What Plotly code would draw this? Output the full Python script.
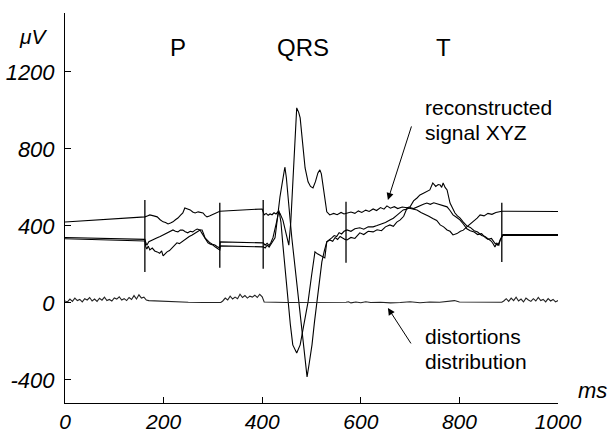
import plotly.graph_objects as go

# ---- data (time in ms, amplitude in microvolts) ----
sig_a = [(0, 420), (162, 447), (167, 452), (172, 457), (180, 452), (187, 447), (193, 432), (199, 421),
         (204, 418), (209, 410), (214, 415), (219, 421), (224, 432), (229, 441), (234, 455), (239, 467),
         (243, 493), (248, 488), (254, 483), (259, 472), (264, 467), (270, 473), (275, 470), (280, 467),
         (284, 455), (288, 447), (293, 452), (298, 457), (303, 462), (308, 467), (314, 476), (400, 488),
         (404, 457), (408, 465), (412, 455), (416, 462), (420, 458), (424, 468), (428, 462), (432, 473),
         (436, 465), (442, 430), (448, 360), (454, 300), (458, 420), (462, 640), (466, 870), (470, 1013),
         (474, 990), (477, 961), (482, 830), (487, 701), (493, 629), (498, 605), (503, 597), (508, 630),
         (513, 675), (517, 691), (520, 670), (523, 613), (527, 540), (531, 473), (537, 457), (545, 465),
         (552, 458), (560, 470), (566, 462), (572, 467), (580, 472), (588, 465), (595, 478), (602, 470),
         (610, 482), (617, 475), (625, 488), (632, 480), (640, 495), (647, 487), (653, 504), (660, 492),
         (668, 500), (675, 490), (684, 498), (694, 494), (704, 488), (714, 483), (722, 470), (730, 462),
         (738, 450), (746, 438), (754, 428), (761, 405), (768, 395), (775, 379), (781, 372), (787, 353),
         (795, 360), (802, 372), (808, 378), (815, 395), (822, 410), (830, 425), (836, 440), (842, 457),
         (850, 452), (858, 465), (866, 460), (874, 470), (882, 473), (886, 476), (1000, 475)]

sig_b = [(0, 340), (162, 330), (164, 312), (166, 300), (170, 318), (175, 325), (181, 330), (187, 338),
         (193, 345), (199, 353), (204, 362), (209, 369), (214, 375), (219, 379), (224, 372), (229, 369),
         (234, 378), (239, 379), (244, 370), (249, 364), (254, 372), (259, 369), (264, 378), (268, 384),
         (273, 380), (278, 379), (281, 360), (284, 338), (289, 325), (294, 312), (299, 305), (304, 301),
         (309, 292), (314, 286), (315, 317), (400, 312), (402, 312), (406, 300), (410, 310), (414, 298),
         (418, 315), (422, 340), (426, 380), (430, 430), (434, 480), (438, 420), (442, 300), (447, 150),
         (452, 5), (457, -110), (462, -218), (470, -260), (477, -218), (485, -100), (493, 5), (500, 140),
         (507, 265), (512, 255), (517, 249), (522, 240), (527, 234), (531, 317), (536, 330), (541, 338),
         (546, 350), (551, 345), (556, 365), (561, 358), (566, 372), (572, 379), (580, 372), (588, 385),
         (598, 390), (606, 383), (615, 395), (625, 395), (633, 402), (642, 410), (650, 418), (659, 431),
         (666, 440), (673, 455), (680, 470), (686, 483), (694, 488), (700, 495), (707, 490), (714, 499),
         (720, 505), (727, 512), (734, 519), (741, 512), (748, 520), (755, 515), (761, 509), (768, 505),
         (775, 499), (781, 480), (787, 457), (794, 445), (801, 431), (808, 410), (815, 385), (822, 375),
         (830, 368), (837, 355), (845, 360), (852, 340), (858, 330), (865, 335), (872, 310), (878, 300),
         (882, 320), (886, 348), (888, 355), (1000, 355)]

sig_c = [(0, 333), (162, 322), (164, 291), (166, 280), (169, 295), (172, 275), (177, 285), (182, 270),
         (187, 265), (192, 258), (196, 270), (199, 244), (203, 255), (207, 265), (212, 272), (217, 286),
         (222, 300), (227, 312), (232, 308), (237, 317), (242, 330), (247, 338), (252, 345), (258, 353),
         (263, 360), (268, 369), (271, 375), (274, 379), (277, 365), (280, 353), (285, 330), (290, 312),
         (295, 305), (300, 301), (305, 290), (310, 282), (314, 275), (315, 296), (400, 291), (402, 291),
         (406, 285), (410, 300), (414, 290), (418, 305), (422, 320), (426, 338), (429, 400), (432, 473),
         (436, 550), (440, 613), (446, 706), (449, 650), (452, 577), (456, 450), (460, 340), (466, 200),
         (470, 90), (475, -20), (480, -150), (484, -250), (488, -340), (491, -384), (495, -320),
         (501, -218), (506, -100), (511, 5), (516, 110), (521, 213), (526, 270), (531, 317), (537, 327),
         (543, 320), (548, 340), (553, 330), (558, 345), (563, 335), (568, 330), (572, 327), (580, 340),
         (588, 335), (598, 364), (606, 355), (615, 372), (625, 369), (633, 380), (642, 375), (650, 395),
         (659, 405), (666, 398), (673, 420), (680, 431), (687, 450), (694, 494), (700, 499), (707, 530),
         (714, 545), (720, 561), (727, 570), (734, 580), (740, 587), (746, 623), (752, 605), (757, 615),
         (761, 613), (764, 600), (767, 623), (771, 600), (775, 587), (781, 519), (786, 490), (791, 467),
         (796, 452), (801, 442), (808, 420), (815, 400), (822, 392), (830, 375), (837, 368), (845, 350),
         (852, 345), (858, 335), (865, 320), (869, 305), (872, 291), (876, 310), (880, 300), (883, 330),
         (886, 343), (888, 350), (1000, 350)]

distortion = [(0, 10), (5, 5), (10, 20), (15, 8), (20, 25), (25, 12), (30, 18), (35, 5), (40, 22), (45, 15),
              (50, 28), (55, 10), (60, 20), (65, 8), (70, 24), (75, 14), (80, 30), (85, 12), (90, 18),
              (95, 10), (100, 26), (105, 20), (110, 32), (115, 15), (120, 22), (125, 12), (130, 28),
              (135, 18), (140, 38), (145, 20), (150, 42), (155, 25), (160, 30), (165, 15), (170, 12),
              (200, 8), (250, 3), (280, 2), (316, 2), (320, 10), (325, 25), (330, 15), (335, 35), (340, 20),
              (345, 30), (350, 22), (355, 45), (360, 28), (365, 38), (370, 25), (375, 35), (380, 30),
              (385, 40), (390, 28), (395, 45), (400, 32), (404, 5), (450, 2), (500, 2), (570, 3), (575, 6),
              (580, 0), (590, 5), (600, 1), (610, 6), (620, 2), (640, 3), (660, 0), (680, 2), (700, 6),
              (720, 1), (740, 5), (760, 3), (780, 8), (790, 12), (800, 5), (820, 4), (840, 2), (860, 3),
              (886, 3), (890, 10), (895, 22), (900, 8), (905, 25), (910, 12), (915, 30), (920, 10),
              (925, 20), (930, 5), (935, 25), (940, 15), (945, 8), (950, 22), (955, 10), (960, 28),
              (965, 12), (970, 18), (975, 5), (980, 22), (985, 10), (990, 18), (995, 5), (1000, 12)]

marker_x = [162, 314, 402, 570, 886]
marker_top = [535, 520, 535, 525, 520]
marker_bottom = [161, 182, 177, 208, 213]

x_ticks = [0, 200, 400, 600, 800, 1000]
x_tick_labels = ["0", "200", "400", "600", "800", "1000"]
y_ticks = [-400, 0, 400, 800, 1200]
y_tick_labels = ["-400", "0", "400", "800", "1200"]

FONT = "Liberation Sans, Arial, sans-serif"

fig = go.Figure()
for sig, col in [(sig_a, "black"), (sig_b, "black"), (sig_c, "black"), (distortion, "#222222")]:
    xs, ys = zip(*sig)
    fig.add_trace(go.Scatter(x=list(xs), y=list(ys), mode="lines",
                             line=dict(color=col, width=1.1), hoverinfo="skip"))

for mx, mt, mb in zip(marker_x, marker_top, marker_bottom):
    fig.add_shape(type="line", x0=mx, x1=mx, y0=mb, y1=mt, xref="x", yref="y",
                  line=dict(color="black", width=1.3))

def txt(x, y, s, size=21, italic=False, xanchor="center", ref="data"):
    r = dict(xref="x", yref="y") if ref == "data" else dict(xref="paper", yref="paper")
    fig.add_annotation(x=x, y=y, text=s, showarrow=False,
                       xanchor=xanchor, yanchor="middle",
                       font=dict(family=FONT, size=size, color="black",
                                 style="italic" if italic else "normal"), **r)

txt(229, 1325, "P", size=24)
txt(483, 1325, "QRS", size=24)
txt(767, 1325, "T", size=24)
txt(-0.063, 0.941, "μV", size=21, italic=True, ref="paper")
txt(1.069, 0.033, "ms", size=22, italic=True, ref="paper")
txt(726, 1013, "reconstructed", xanchor="left")
txt(726, 883, "signal XYZ", xanchor="left")
txt(726, -177, "distortions", xanchor="left")
txt(726, -306, "distribution", xanchor="left")

for tip_y, ay in [(535, -75), (-26, 37)]:
    fig.add_annotation(x=655, y=tip_y, xref="x", yref="y", text="", showarrow=True,
                       ax=24, ay=ay, arrowhead=2, arrowsize=1.4, arrowwidth=1,
                       arrowcolor="black")

axis_common = dict(showline=True, linecolor="black", linewidth=1, ticks="inside", ticklen=6,
                   tickcolor="black", showgrid=False, zeroline=False, automargin=False)

fig.update_layout(
    width=610, height=429,
    margin=dict(l=65, r=52, t=13, b=26),
    plot_bgcolor="white", paper_bgcolor="white",
    showlegend=False,
    font=dict(family=FONT, color="black"),
    xaxis=dict(range=[0, 1000], tickvals=x_ticks, ticktext=x_tick_labels,
               ticklabelstandoff=0,
               tickfont=dict(family=FONT, size=21, color="black", style="italic"),
               **axis_common),
    yaxis=dict(range=[-520, 1506], tickvals=y_ticks, ticktext=y_tick_labels,
               ticklabelstandoff=5,
               tickfont=dict(family=FONT, size=22, color="black", style="italic"),
               **axis_common),
)

fig.write_html("out.html", config={"displayModeBar": False},
               post_script="document.body.style.margin='0';document.body.style.padding='0';"
                           "document.body.style.overflow='hidden';")
